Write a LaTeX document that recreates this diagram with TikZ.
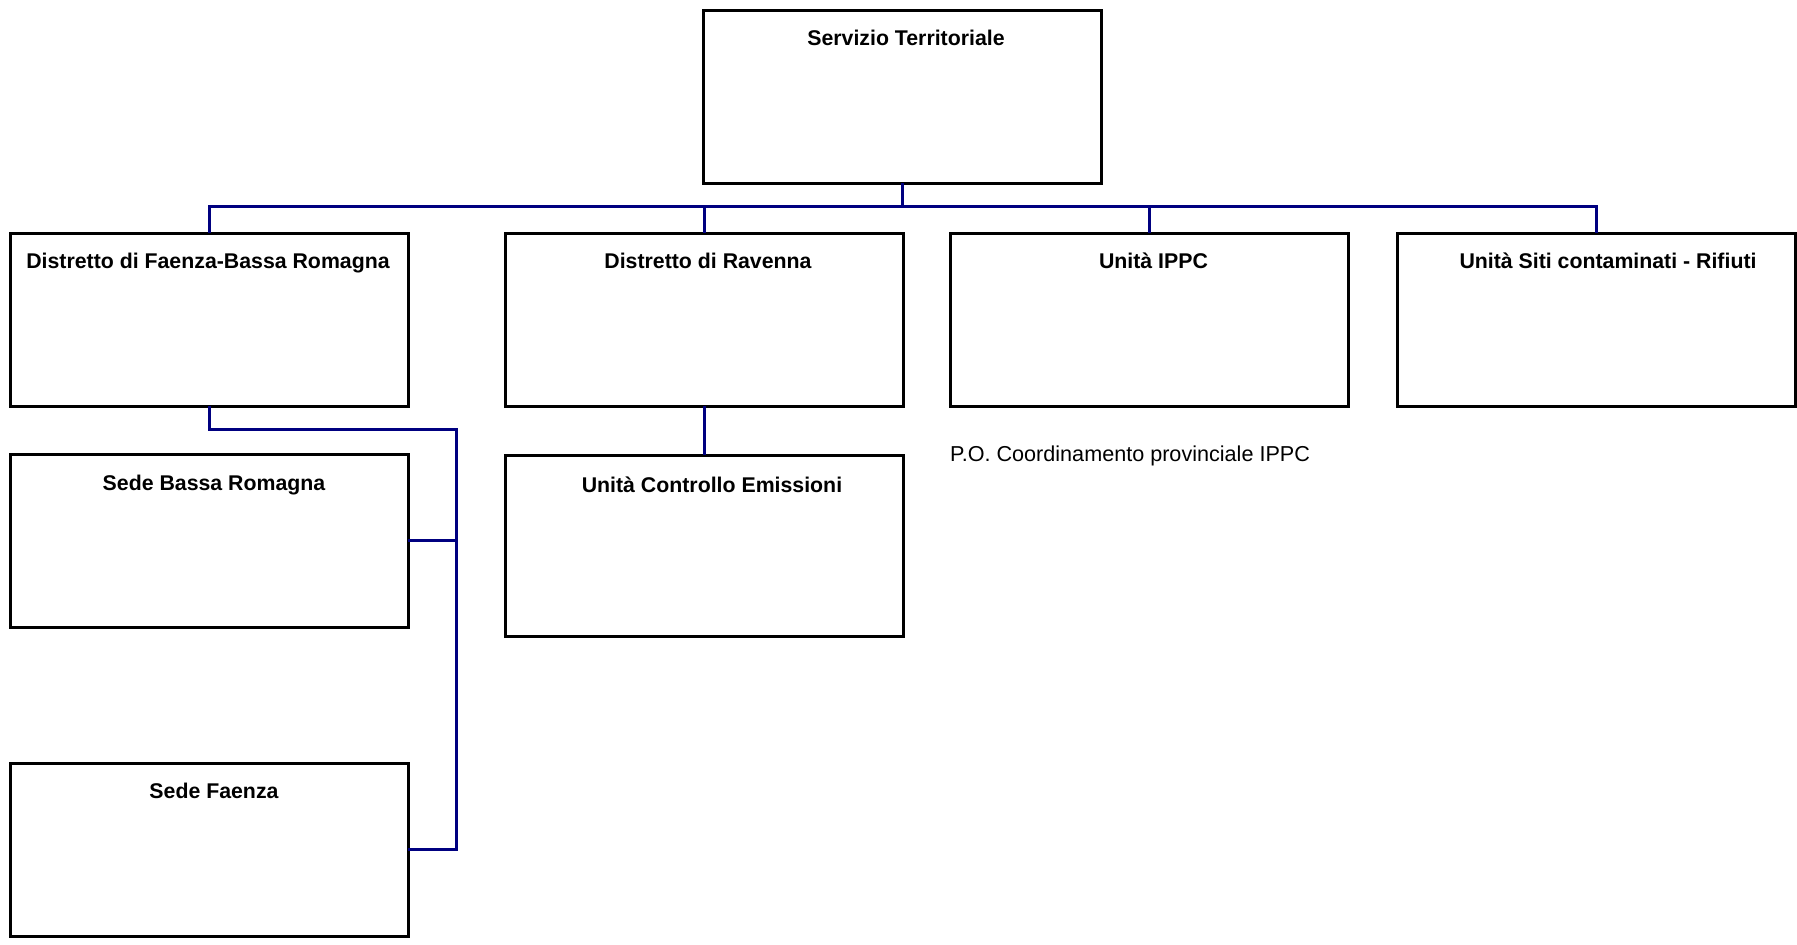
\documentclass[tikz,border=0pt]{standalone}
\usepackage{fontspec}
\setmainfont{Liberation Sans}
\definecolor{linkblue}{RGB}{0,0,128}
\begin{document}
\begin{tikzpicture}[x=1pt,y=-1pt,
  unitbox/.style={draw=black, line width=3pt, fill=white, minimum width=398pt, minimum height=173pt, inner sep=0pt, outer sep=0pt},
  title/.style={font=\bfseries\fontsize{21.3}{25}\selectfont, anchor=base},
  conn/.style={draw=linkblue, line width=3pt}]
\useasboundingbox (0,0) rectangle (1797,945);
% top-level service
\node[unitbox, label={[title, yshift=-35pt, xshift=4pt]north:Servizio Territoriale}] (top) at (902,96.5) {};
% first level
\node[unitbox, label={[title, yshift=-35pt, xshift=-1pt]north:Distretto di Faenza-Bassa Romagna}] (faenza) at (209,319.5) {};
\node[unitbox, label={[title, yshift=-35pt, xshift=4pt]north:Distretto di Ravenna}] (ravenna) at (704,319.5) {};
\node[unitbox, label={[title, yshift=-35pt, xshift=4pt]north:Unità IPPC}] (ippc) at (1149.5,319.5) {};
\node[unitbox, label={[title, yshift=-35pt, xshift=12pt]north:Unità Siti contaminati - Rifiuti}] (siti) at (1596,319.5) {};
% second level
\node[unitbox, label={[title, yshift=-36pt, xshift=5pt]north:Sede Bassa Romagna}] (sedeb) at (209,540.5) {};
\node[unitbox, label={[title, yshift=-35pt, xshift=5pt]north:Sede Faenza}] (sedef) at (209,849.5) {};
\node[unitbox, minimum height=181pt, label={[title, yshift=-37pt, xshift=8pt]north:Unità Controllo Emissioni}] (uce) at (704,545.5) {};
% free note
\node[anchor=base west, inner sep=0pt, font=\fontsize{21.6}{26}\selectfont] (note) at (950,461) {P.O. Coordinamento provinciale IPPC};
% connectors
\coordinate (bus) at (902,206);
\coordinate (rail) at (456,429);
\draw[conn] (top.south) -- (bus);
\draw[conn] (faenza.north) |- (siti.north |- bus) -- (siti.north);
\draw[conn] (ravenna.north) -- (ravenna.north |- bus);
\draw[conn] (ippc.north) -- (ippc.north |- bus);
\draw[conn] (faenza.south) |- (rail) |- (sedef.east);
\draw[conn] (sedeb.east) -- (sedeb.east -| rail);
\draw[conn] (ravenna.south) -- (uce.north);
\end{tikzpicture}
\end{document}
